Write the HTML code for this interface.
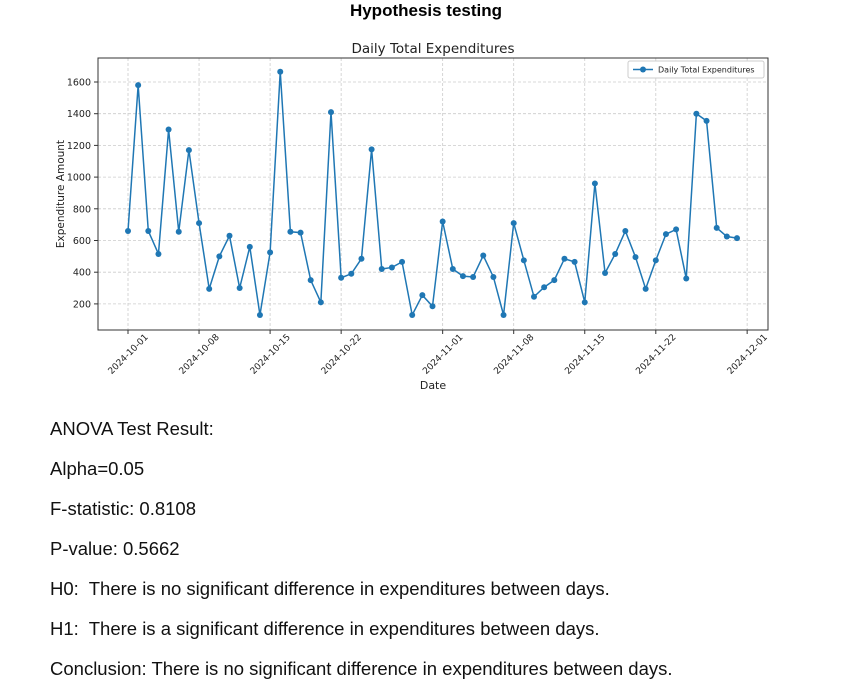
<!DOCTYPE html>
<html><head><meta charset="utf-8"><style>
body{margin:0;width:852px;height:697px;background:#fff;font-family:"Liberation Sans",sans-serif;position:relative;overflow:hidden}
.h{position:absolute;left:0;width:852px;text-align:center;top:1px;font-weight:bold;font-size:17px}
.t{position:absolute;left:50px;font-size:18.5px;color:#111}
</style></head><body>
<div class="h">Hypothesis testing</div>
<svg id="c" width="852" height="400" style="position:absolute;left:0;top:0;font-family:'DejaVu Sans',sans-serif"></svg>
<div class="t" style="top:418px">ANOVA Test Result:</div>
<div class="t" style="top:458px">Alpha=0.05</div>
<div class="t" style="top:498px">F-statistic: 0.8108</div>
<div class="t" style="top:538px">P-value: 0.5662</div>
<div class="t" style="top:578px">H0:&nbsp; There is no significant difference in expenditures between days.</div>
<div class="t" style="top:618px">H1:&nbsp; There is a significant difference in expenditures between days.</div>
<div class="t" style="top:658px">Conclusion: There is no significant difference in expenditures between days.</div>
<script>
const values=[660,1580,660,515,1300,655,1170,710,295,500,630,300,560,130,525,1665,655,650,350,210,1410,365,390,485,1175,420,430,465,130,255,185,720,420,375,370,505,370,130,710,475,245,305,350,485,465,210,960,395,515,660,495,295,475,640,670,360,1400,1355,680,625,615];
const yTicks=[200,400,600,800,1000,1200,1400,1600];
const xTickLabels=["2024-10-01","2024-10-08","2024-10-15","2024-10-22","2024-11-01","2024-11-08","2024-11-15","2024-11-22","2024-12-01"];
const xTickDays=[0,7,14,21,31,38,45,52,61];
const L=98,R=768,T=58,B=330;
const xs=d=>128+d*10.15;
const ys=v=>82+(1600-v)*0.1585;
const svg=document.getElementById('c');const NS='http://www.w3.org/2000/svg';
function mk(tag,a,txt){const e=document.createElementNS(NS,tag);for(const k in a)e.setAttribute(k,a[k]);if(txt!==undefined)e.textContent=txt;svg.appendChild(e);return e;}
let e;
e=mk('text',{x:433,y:53,'text-anchor':'middle','font-size':13.5,fill:'#222'},'Daily Total Expenditures');


yTicks.forEach(v=>{const y=ys(v);
e=mk('line',{x1:L,x2:R,y1:y,y2:y,stroke:'#ccc','stroke-dasharray':'3,2','stroke-width':0.8});


mk('line',{x1:L-4,x2:L,y1:y,y2:y,stroke:'#333'});
e=mk('text',{x:L-7,y:y+3.5,'text-anchor':'end','font-size':9.5,fill:'#222'},v);

});
xTickDays.forEach((d,i)=>{const x=xs(d);
e=mk('line',{x1:x,x2:x,y1:T,y2:B,stroke:'#ccc','stroke-dasharray':'3,2','stroke-width':0.8});


mk('line',{x1:x,x2:x,y1:B,y2:B+4,stroke:'#333'});
const cy=B+24;
e=mk('text',{x:x,y:cy+3,'text-anchor':'middle','font-size':9,fill:'#222',transform:`rotate(-45 ${x} ${cy})`},xTickLabels[i]);

});
mk('rect',{x:L,y:T,width:R-L,height:B-T,fill:'none',stroke:'#333','stroke-width':1});
e=mk('text',{x:433,y:389,'text-anchor':'middle','font-size':11,fill:'#222'},'Date');


e=mk('text',{x:64,y:194,'text-anchor':'middle','font-size':10.5,fill:'#222',transform:'rotate(-90 64 194)'},'Expenditure Amount');


e=mk('polyline',{points:values.map((v,i)=>xs(i)+','+ys(v)).join(' '),fill:'none',stroke:'#1f77b4','stroke-width':1.5});


values.forEach((v,i)=>{e=mk('circle',{cx:xs(i),cy:ys(v),r:3,fill:'#1f77b4'});

});
e=mk('rect',{x:628,y:61,width:136,height:17,fill:'#fff',stroke:'#ccc',rx:2});


mk('line',{x1:633,x2:653,y1:69.5,y2:69.5,stroke:'#1f77b4','stroke-width':1.5});
mk('circle',{cx:643,cy:69.5,r:3,fill:'#1f77b4'});
e=mk('text',{x:658,y:72.5,'font-size':8,fill:'#222'},'Daily Total Expenditures');


</script>
</body></html>
